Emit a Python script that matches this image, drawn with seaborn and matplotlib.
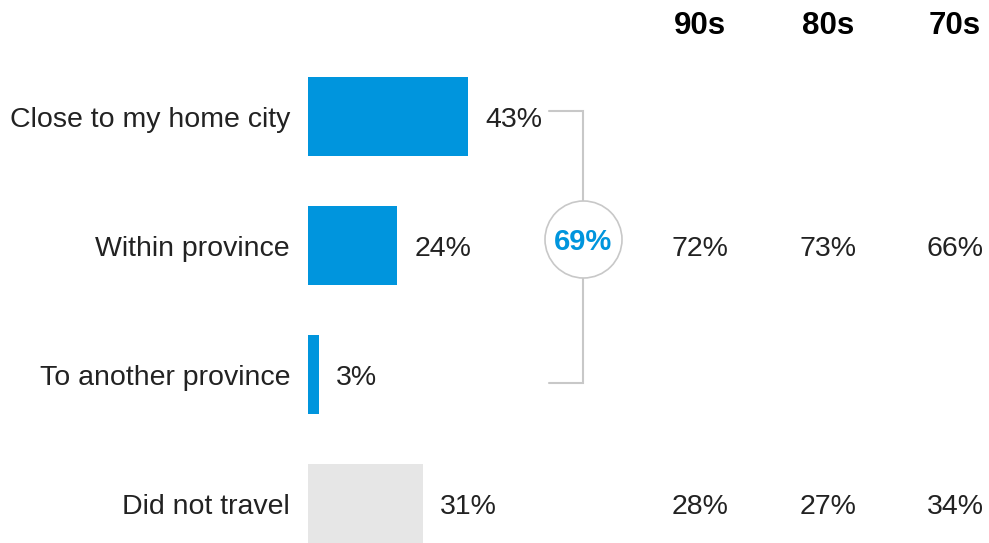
import matplotlib
matplotlib.use("Agg")
import matplotlib.pyplot as plt
import seaborn as sns
import pandas as pd

# Travel destination shares
categories = ["Close to my home city", "Within province", "To another province", "Did not travel"]
shares = [43, 24, 3, 31]
travelled_total = 69

# Breakdown by generation: [travelled, did not travel]
generations = ["90s", "80s", "70s"]
gen_travelled = [72, 73, 66]
gen_not_travelled = [28, 27, 34]

BLUE = "#0095DD"
GREY_BAR = "#E6E6E6"
LINE = "#C8C8C8"
TEXT = "#222222"

sns.set_theme(style="white")
plt.rcParams["font.family"] = ["Liberation Sans", "DejaVu Sans"]

W, H, DPI = 989, 543, 100
fig = plt.figure(figsize=(W / DPI, H / DPI), dpi=DPI)
ax = fig.add_axes([0, 0, 1, 1])

df = pd.DataFrame({"category": categories, "share": shares})
palette = {c: (GREY_BAR if c == "Did not travel" else BLUE) for c in categories}
sns.barplot(data=df, y="category", x="share", hue="category", palette=palette,
            orient="h", width=0.62, legend=False, ax=ax, saturation=1,
            linewidth=0, edgecolor="none")

# Pixel geometry: bars start at x=308 px, 3.72 px per percentage point
px_per_unit = 3.72
x0_px = 308
row0_px, row_step = 116.5, 129.0
ax.set_xlim(-x0_px / px_per_unit, (W - x0_px) / px_per_unit)
ax.set_ylim(3 + (H - row0_px - 3 * row_step) / row_step, -row0_px / row_step)
ax.axis("off")

def px_x(px):
    return (px - x0_px) / px_per_unit

def px_y(px):
    return (px - row0_px) / row_step

fs = 20.5
base = 10.5 / row_step  # baseline offset below the row centre

# Category labels
for i, cat in enumerate(categories):
    ax.text(px_x(290), i + base, cat, ha="right", va="baseline", fontsize=fs, color=TEXT)

# Value labels beside each bar
for i, v in enumerate(shares):
    ax.text(v + 17 / px_per_unit, i + base, f"{v}%", ha="left", va="baseline",
            fontsize=fs, color=TEXT)

# Bracket grouping the three travel rows
bx0, bx1 = px_x(549), px_x(583)
by0, by1 = px_y(111), px_y(383)
ax.plot([bx0, bx1, bx1, bx0], [by0, by0, by1, by1], color=LINE, lw=1.5,
        solid_joinstyle="miter", zorder=2)
cy = px_y(239)
ax.scatter([bx1], [cy], s=(2 * 38.5 * 0.72) ** 2, facecolor="white",
           edgecolor=LINE, linewidth=1.2, zorder=3)
ax.text(bx1, px_y(250), f"{travelled_total}%", ha="center", va="baseline",
        fontsize=21, fontweight="bold", color=BLUE, zorder=4)

# Generation columns
col_px = [700, 828, 955]
for g, cx, t, n in zip(generations, col_px, gen_travelled, gen_not_travelled):
    ax.text(px_x(cx), px_y(33.5), g, ha="center", va="baseline", fontsize=22.5,
            fontweight="bold", color="black")
    ax.text(px_x(cx), 1 + base, f"{t}%", ha="center", va="baseline", fontsize=fs, color=TEXT)
    ax.text(px_x(cx), 3 + base, f"{n}%", ha="center", va="baseline", fontsize=fs, color=TEXT)

fig.savefig("out.png", dpi=DPI, facecolor="white")
